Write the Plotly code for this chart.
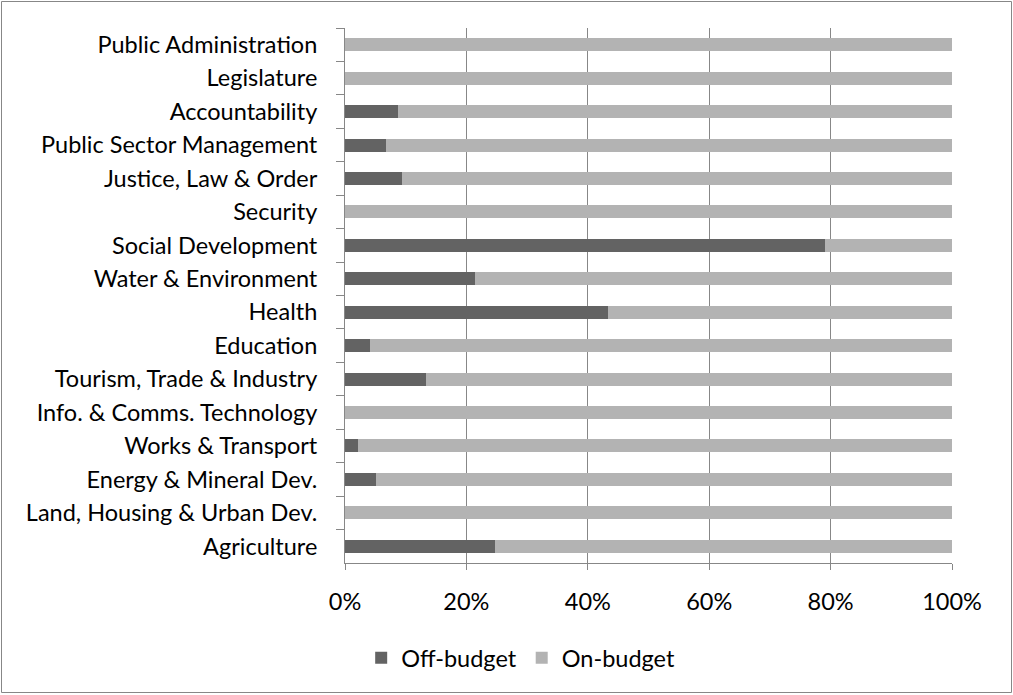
import plotly.graph_objects as go

# Sectors, listed top to bottom
sectors = [
    "Public Administration",
    "Legislature",
    "Accountability",
    "Public Sector Management",
    "Justice, Law & Order",
    "Security",
    "Social Development",
    "Water & Environment",
    "Health",
    "Education",
    "Tourism, Trade & Industry",
    "Info. & Comms. Technology",
    "Works & Transport",
    "Energy & Mineral Dev.",
    "Land, Housing & Urban Dev.",
    "Agriculture",
]

# Share of funding that is off-budget (%)
off_budget = [0, 0, 8.7, 6.7, 9.4, 0, 79.0, 21.4, 43.3, 4.1, 13.3, 0, 2.1, 5.1, 0, 24.7]
# Remaining share that is on-budget (%)
on_budget = [100 - v for v in off_budget]

x_ticks = [0, 20, 40, 60, 80, 100]
x_tick_text = ["0%", "20%", "40%", "60%", "80%", "100%"]

FONT = "Lato, Carlito, 'Liberation Sans', sans-serif"
GRID = "#878787"
FS = 23.5

fig = go.Figure()
fig.add_trace(go.Bar(
    y=sectors, x=off_budget, name="Off-budget", orientation="h",
    marker=dict(color="#636363", line=dict(width=0)),
))
fig.add_trace(go.Bar(
    y=sectors, x=on_budget, name="On-budget", orientation="h",
    marker=dict(color="#b3b3b3", line=dict(width=0)),
))

L, R, T, B = 345, 61, 28, 132
W, H = 1013, 695
pw, ph = W - L - R, H - T - B

fig.update_layout(
    width=W, height=H,
    barmode="stack",
    bargap=0.61,
    paper_bgcolor="white",
    plot_bgcolor="white",
    margin=dict(l=L, r=R, t=T, b=B, pad=0),
    font=dict(family=FONT, size=FS, color="#000000"),
    showlegend=True,
    legend=dict(
        orientation="h",
        traceorder="normal",
        xref="container", yref="container",
        x=0.514, xanchor="center",
        y=(H - 658) / H, yanchor="middle",
        font=dict(family=FONT, size=FS, color="#000000"),
        itemwidth=30, tracegroupgap=0,
        bgcolor="rgba(0,0,0,0)",
    ),
    xaxis=dict(
        range=[0, 100],
        tickvals=x_ticks, ticktext=x_tick_text,
        showgrid=True, gridcolor=GRID, gridwidth=1,
        zeroline=False,
        showline=True, linecolor=GRID, linewidth=1,
        ticks="outside", ticklen=6, tickcolor=GRID, tickwidth=1,
        ticklabelstandoff=12,
        tickfont=dict(family=FONT, size=FS, color="#000000"),
        fixedrange=True,
    ),
    yaxis=dict(
        type="category",
        categoryorder="array", categoryarray=sectors,
        autorange="reversed",
        showgrid=False, zeroline=False,
        showline=True, linecolor=GRID, linewidth=1,
        ticks="outside", ticklen=8, tickcolor=GRID, tickwidth=1,
        tickson="boundaries",
        ticklabelstandoff=22,
        tickfont=dict(family=FONT, size=FS, color="#000000"),
        fixedrange=True,
    ),
    shapes=[
        dict(
            type="rect", xref="paper", yref="paper",
            x0=(1.5 - L) / pw, x1=(1011.5 - L) / pw,
            y0=(H - B - 692.5) / ph, y1=(H - B - 1.5) / ph,
            line=dict(color=GRID, width=1),
            fillcolor="rgba(0,0,0,0)",
            layer="below",
        )
    ],
)

fig.write_html("out.html", config={"displayModeBar": False})
